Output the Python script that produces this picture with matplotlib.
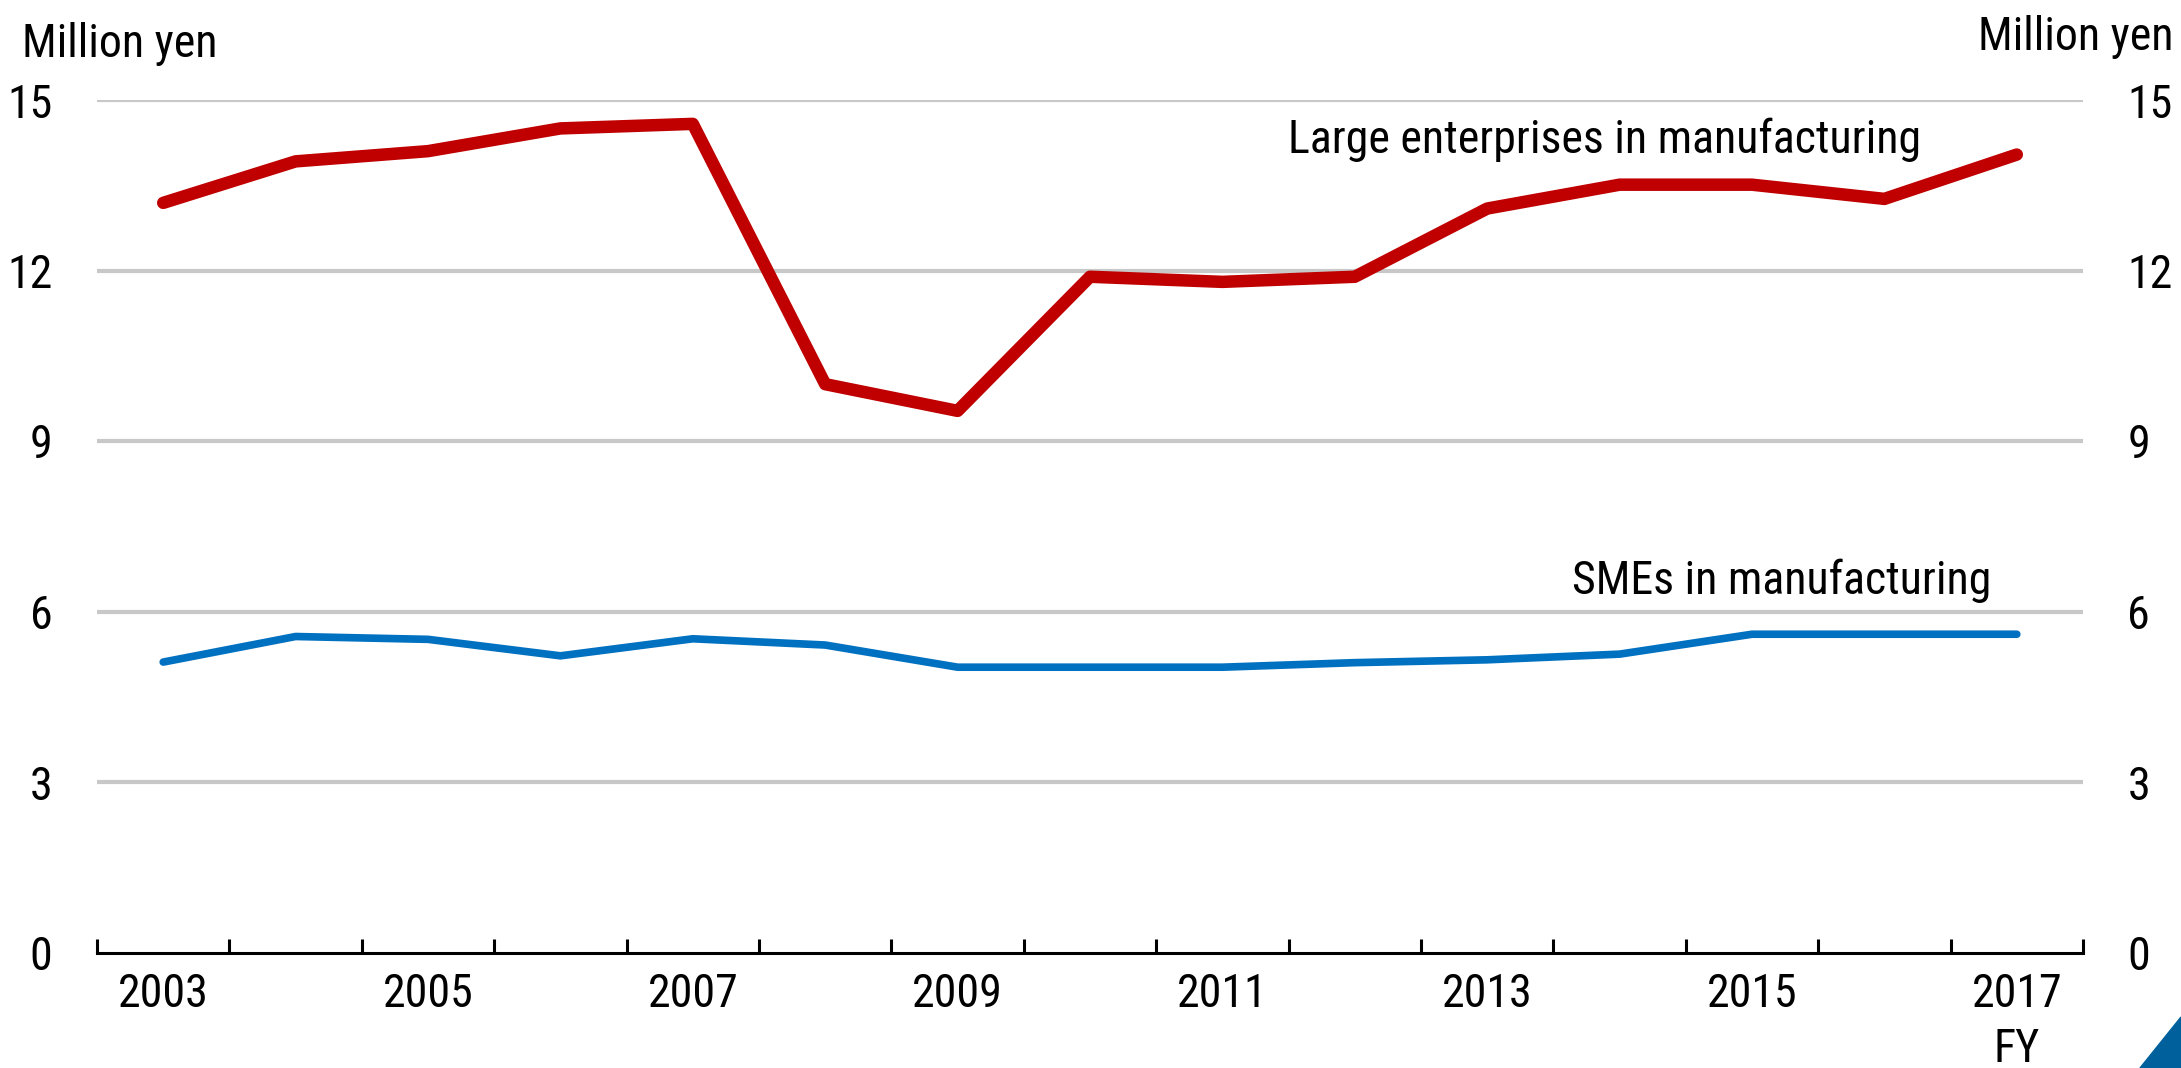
import matplotlib

matplotlib.use("Agg")
import matplotlib.pyplot as plt
import numpy as np
from matplotlib.patches import Polygon

# Value added per employee, million yen, FY2003-FY2017
years = list(range(2003, 2018))
large_mfg = [13.19, 13.92, 14.10, 14.50, 14.58, 10.00, 9.53, 11.89,
             11.80, 11.89, 13.09, 13.51, 13.51, 13.26, 14.04]
sme_mfg = [5.11, 5.56, 5.51, 5.22, 5.52, 5.41, 5.02, 5.02,
           5.02, 5.10, 5.15, 5.25, 5.60, 5.60, 5.60]
y_ticks = [0, 3, 6, 9, 12, 15]

RED = "#C00000"
BLUE = "#0070C0"
GRID = "#C8C8C8"

plt.rcParams["font.family"] = ["Liberation Sans Narrow", "Arial Narrow", "Roboto Condensed",
                               "Archivo Narrow", "PT Sans Narrow", "Liberation Sans"]
FS = 33

fig = plt.figure(figsize=(21.81, 10.68), dpi=100)
ax = fig.add_axes([97 / 2181, 1 - 952.5 / 1068, (2083 - 97) / 2181, (952.5 - 100) / 1068])

x = np.arange(len(years))
ax.plot(x, large_mfg, color=RED, lw=9, solid_capstyle="round", solid_joinstyle="round", zorder=3)
ax.plot(x, sme_mfg, color=BLUE, lw=5.5, solid_capstyle="round", solid_joinstyle="round", zorder=3)

ax.set_xlim(-0.5, len(years) - 0.5)
ax.set_ylim(0, 15)

# horizontal gridlines (zero line is the axis itself)
for v in y_ticks[1:]:
    ax.axhline(v, color=GRID, lw=3, zorder=1)

for s in ["top", "left", "right"]:
    ax.spines[s].set_visible(False)
ax.spines["bottom"].set_linewidth(2.2)
ax.spines["bottom"].set_zorder(4)

# category boundary ticks pointing up, year labels every other year
ax.set_xticks(np.arange(-0.5, len(years), 1.0))
ax.set_xticklabels([])
ax.tick_params(axis="x", which="major", direction="in", length=10, width=2.2)
label_idx = [i for i, yr in enumerate(years) if yr % 2 == 1]
ax.set_xticks(label_idx, minor=True)
ax.set_xticklabels([str(years[i]) for i in label_idx], minor=True, fontsize=FS)
ax.tick_params(axis="x", which="minor", length=0, pad=14)

ax.set_yticks(y_ticks)
ax.set_yticklabels([str(v) for v in y_ticks], fontsize=FS)
ax.tick_params(axis="y", length=0, labelleft=True, labelright=True, pad=32)

fig.text(22 / 2181, 1 - 57 / 1068, "Million yen", fontsize=FS, ha="left", va="baseline")
fig.text(2173 / 2181, 1 - 50 / 1068, "Million yen", fontsize=FS, ha="right", va="baseline")
ax.text(13.28, 14.3, "Large enterprises in manufacturing", fontsize=FS, ha="right", va="center")
ax.text(13.81, 6.54, "SMEs in manufacturing", fontsize=FS, ha="right", va="center")
ax.text(len(years) - 1, -1.7, "FY", fontsize=FS, ha="center", va="center")

# corner marker
tri = Polygon([[2140 / 2181, 0], [1, 51 / 1068], [1, 0]], closed=True,
              transform=fig.transFigure, color="#00609C", clip_on=False)
fig.patches.append(tri)

fig.savefig("out.png", dpi=100)
plt.close(fig)
